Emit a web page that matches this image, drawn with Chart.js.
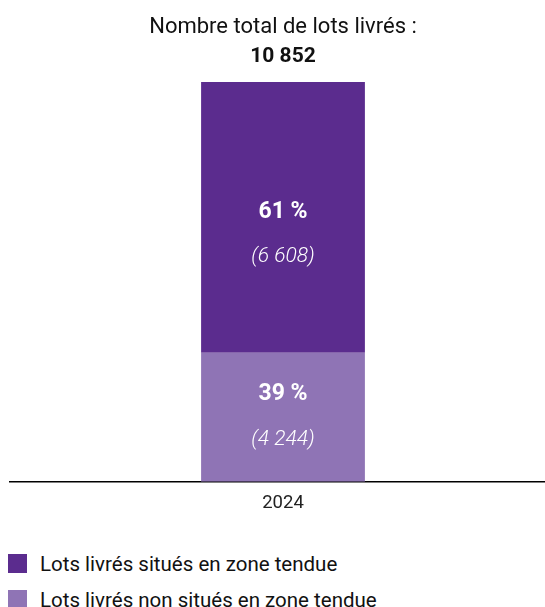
<!DOCTYPE html>
<html lang="fr">
<head>
<meta charset="utf-8">
<script src="https://cdn.jsdelivr.net/npm/chart.js@4.4.1/dist/chart.umd.min.js"></script>
<style>
  html, body { margin: 0; padding: 0; background: #fff; overflow: hidden; width: 545px; height: 607px; }
  #wrap { position: absolute; left: 0; top: 0; width: 556px; height: 528px; }
  #legend { position: absolute; left: 8px; top: 554px; font-family: Roboto, sans-serif; font-size: 20.5px; color: #111; }
  .item { display: flex; align-items: center; height: 19px; margin-bottom: 17px; white-space: nowrap; }
  .box { width: 19px; height: 19px; margin-right: 13px; flex: none; }
</style>
</head>
<body>
<div id="wrap"><canvas id="c"></canvas></div>
<div id="legend"></div>
<script>
const categories = ['2024'];
const seriesNames = ['Lots livrés non situés en zone tendue', 'Lots livrés situés en zone tendue'];
const valuesNonTendue = [4244];
const valuesTendue = [6608];
const titleText = 'Nombre total de lots livrés :';

const colors = ['#8f74b5', '#5b2c8e'];
const fontFamily = 'Roboto, sans-serif';

function fmt(n) { return String(n).replace(/\B(?=(\d{3})+(?!\d))/g, ' '); }
const totals = categories.map((_, i) => valuesNonTendue[i] + valuesTendue[i]);

const labelOffsets = [0, 17];
const segmentLabels = {
  id: 'segmentLabels',
  afterDatasetsDraw(chart) {
    const ctx = chart.ctx;
    const area = chart.chartArea;
    ctx.save();
    ctx.fillStyle = '#fff';
    ctx.textAlign = 'center';
    ctx.textBaseline = 'middle';
    chart.data.datasets.forEach((ds, i) => {
      const meta = chart.getDatasetMeta(i);
      meta.data.forEach((bar, j) => {
        const top = Math.max(bar.y, area.top);
        const bottom = Math.min(bar.base, area.bottom);
        const c = (top + bottom) / 2 + labelOffsets[i];
        const pct = Math.round(ds.data[j] / totals[j] * 100);
        ctx.font = 'bold 23px ' + fontFamily;
        ctx.fillText(pct + ' %', bar.x, c - 22.5);
        ctx.font = 'italic 300 21px ' + fontFamily;
        ctx.fillText('(' + fmt(ds.data[j]) + ')', bar.x, c + 22.5);
      });
    });
    ctx.restore();
  }
};

const chart = new Chart(document.getElementById('c'), {
  type: 'bar',
  data: {
    labels: categories,
    datasets: [
      { label: seriesNames[0], data: valuesNonTendue, backgroundColor: colors[0], borderWidth: 0 },
      { label: seriesNames[1], data: valuesTendue, backgroundColor: colors[1], borderWidth: 0 }
    ]
  },
  options: {
    responsive: true,
    maintainAspectRatio: false,
    animation: false,
    layout: { padding: { left: 10, right: 0, top: 0, bottom: 2.4 } },
    datasets: { bar: { categoryPercentage: 1, barPercentage: 0.3 } },
    scales: {
      x: {
        stacked: true,
        grid: { display: false, drawTicks: false },
        border: { display: true, color: '#000', width: 1.5 },
        ticks: { color: '#222', font: { family: fontFamily, size: 18.5 }, padding: 11 }
      },
      y: {
        stacked: true,
        display: false,
        min: 1100,
        max: totals[0]
      }
    },
    plugins: {
      legend: { display: false },
      tooltip: { enabled: false },
      title: {
        display: true,
        text: titleText,
        color: '#111',
        font: { family: fontFamily, size: 22, weight: 'normal' },
        padding: { top: 14.3, bottom: 3.3 }
      },
      subtitle: {
        display: true,
        text: fmt(totals[0]),
        color: '#111',
        font: { family: fontFamily, size: 21, weight: 'bold' },
        padding: { top: 0, bottom: 12.8 }
      }
    }
  },
  plugins: [segmentLabels]
});

const legend = document.getElementById('legend');
[1, 0].forEach(i => {
  const item = document.createElement('div');
  item.className = 'item';
  const box = document.createElement('span');
  box.className = 'box';
  box.style.background = colors[i];
  const txt = document.createElement('span');
  txt.textContent = seriesNames[i];
  item.appendChild(box);
  item.appendChild(txt);
  legend.appendChild(item);
});
</script>
</body>
</html>
